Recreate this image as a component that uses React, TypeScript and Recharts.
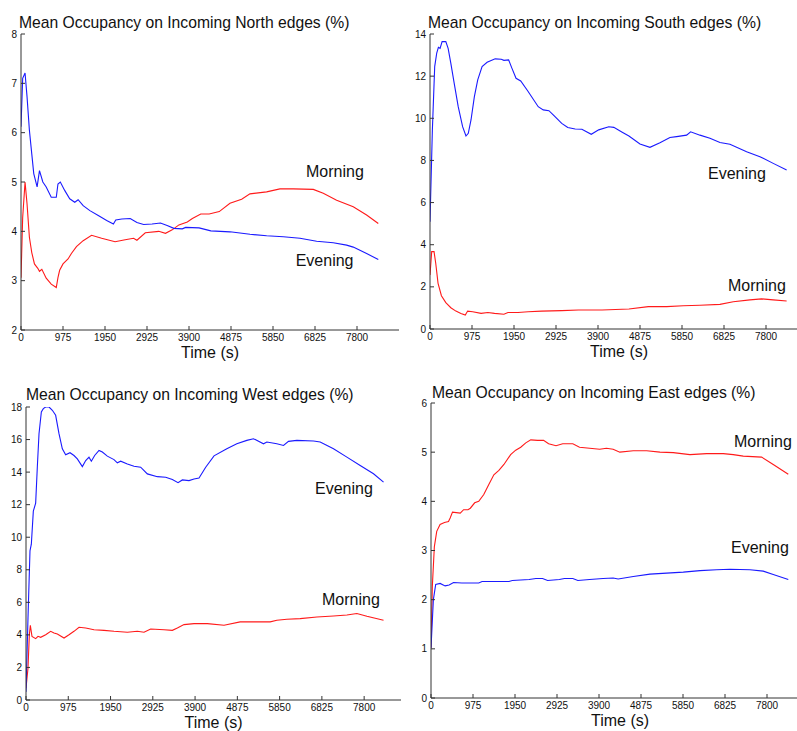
import { Line, LineChart, ReferenceDot, XAxis, YAxis } from "recharts";

const X_TICKS = [0, 975, 1950, 2925, 3900, 4875, 5850, 6825, 7800];

// North
const NORTH_EVE_T = [0, 39, 94, 140, 195, 250, 296, 374, 429, 507, 585, 702, 819, 858, 913, 1014, 1131, 1248, 1326, 1443, 1599, 1794, 1989, 2145, 2200, 2340, 2535, 2691, 2847, 3042, 3237, 3393, 3549, 3744, 3822, 4134, 4407, 4851, 5315, 5702, 6089, 6476, 6863, 7249, 7559, 7713, 8023, 8294];
const NORTH_EVE = [6.12, 7.1, 7.21, 6.73, 6.05, 5.57, 5.17, 4.9, 5.23, 5.0, 4.9, 4.69, 4.69, 4.96, 5.0, 4.83, 4.66, 4.59, 4.64, 4.52, 4.42, 4.32, 4.22, 4.15, 4.23, 4.25, 4.26, 4.18, 4.14, 4.15, 4.17, 4.12, 4.06, 4.05, 4.08, 4.07, 4.01, 3.99, 3.94, 3.91, 3.89, 3.86, 3.8, 3.77, 3.72, 3.68, 3.55, 3.43];
const NORTH_MOR_T = [0, 39, 94, 140, 195, 250, 312, 390, 429, 484, 585, 702, 819, 858, 897, 975, 1092, 1170, 1287, 1443, 1638, 1872, 2184, 2418, 2613, 2691, 2886, 3198, 3354, 3510, 3666, 3861, 3978, 4173, 4368, 4602, 4851, 5122, 5315, 5702, 6011, 6321, 6785, 7017, 7327, 7713, 8023, 8294];
const NORTH_MOR = [3.06, 4.28, 5.0, 4.56, 3.88, 3.57, 3.34, 3.25, 3.19, 3.23, 3.05, 2.93, 2.86, 3.06, 3.21, 3.34, 3.44, 3.55, 3.69, 3.81, 3.92, 3.86, 3.79, 3.83, 3.86, 3.82, 3.97, 4.0, 3.96, 4.03, 4.13, 4.19, 4.26, 4.35, 4.35, 4.4, 4.57, 4.65, 4.76, 4.8, 4.86, 4.86, 4.85, 4.77, 4.63, 4.5, 4.33, 4.16];

// South
const SOUTH_EVE_T = [0, 55, 109, 156, 195, 234, 281, 367, 421, 484, 562, 655, 757, 835, 889, 952, 1030, 1108, 1209, 1326, 1420, 1513, 1654, 1716, 1825, 1903, 1997, 2106, 2278, 2512, 2629, 2761, 2902, 3058, 3198, 3370, 3526, 3744, 3916, 4150, 4267, 4462, 4618, 4874, 5106, 5338, 5570, 5725, 5957, 6050, 6267, 6499, 6731, 6963, 7350, 7659, 7968, 8279];
const SOUTH_EVE = [5.09, 9.45, 12.45, 13.09, 13.37, 13.32, 13.64, 13.64, 13.32, 12.61, 11.66, 10.55, 9.6, 9.16, 9.29, 9.92, 11.03, 11.82, 12.45, 12.66, 12.74, 12.82, 12.8, 12.75, 12.77, 12.37, 11.9, 11.77, 11.27, 10.55, 10.4, 10.36, 10.08, 9.76, 9.56, 9.49, 9.48, 9.24, 9.45, 9.6, 9.57, 9.34, 9.16, 8.78, 8.62, 8.84, 9.09, 9.13, 9.2, 9.36, 9.2, 9.05, 8.85, 8.77, 8.41, 8.18, 7.86, 7.55];
const SOUTH_MOR_T = [0, 39, 94, 133, 187, 265, 367, 484, 601, 718, 819, 874, 991, 1186, 1342, 1498, 1716, 1810, 2044, 2278, 2590, 3058, 3448, 3994, 4618, 5068, 5494, 5880, 6267, 6731, 7040, 7427, 7698, 7968, 8279];
const SOUTH_MOR = [2.56, 3.67, 3.67, 3.12, 2.17, 1.58, 1.25, 1.01, 0.85, 0.74, 0.66, 0.85, 0.82, 0.74, 0.78, 0.74, 0.7, 0.78, 0.78, 0.82, 0.85, 0.87, 0.9, 0.9, 0.95, 1.06, 1.06, 1.1, 1.13, 1.17, 1.29, 1.38, 1.43, 1.38, 1.33];

// West
const WEST_EVE_T = [0, 46, 92, 123, 169, 223, 261, 300, 354, 400, 454, 531, 608, 684, 761, 838, 915, 1015, 1107, 1184, 1300, 1377, 1453, 1507, 1584, 1684, 1761, 1876, 2030, 2107, 2184, 2338, 2492, 2645, 2799, 3030, 3222, 3376, 3507, 3607, 3760, 3876, 3991, 4145, 4337, 4632, 4863, 5094, 5248, 5478, 5555, 5786, 5940, 6055, 6248, 6632, 6786, 7093, 7402, 7709, 8016, 8247];
const WEST_EVE = [0.5, 5.04, 9.16, 9.57, 11.6, 12.1, 14.3, 16.36, 17.7, 17.9, 18.0, 18.0, 17.8, 17.49, 16.36, 15.43, 15.06, 15.19, 15.02, 14.81, 14.34, 14.71, 14.92, 14.67, 15.02, 15.33, 15.23, 14.98, 14.77, 14.57, 14.67, 14.5, 14.36, 14.3, 13.89, 13.72, 13.68, 13.54, 13.35, 13.52, 13.48, 13.58, 13.64, 14.3, 15.0, 15.44, 15.74, 15.95, 16.05, 15.74, 15.85, 15.74, 15.64, 15.89, 15.95, 15.91, 15.85, 15.44, 14.92, 14.41, 13.9, 13.38];
const WEST_MOR_T = [0, 46, 77, 100, 138, 223, 277, 338, 454, 569, 646, 723, 877, 992, 1107, 1223, 1377, 1569, 1799, 2030, 2338, 2568, 2722, 2876, 3184, 3376, 3491, 3645, 3876, 4183, 4568, 4940, 5248, 5632, 5786, 6017, 6324, 6709, 7093, 7402, 7632, 7863, 8247];
const WEST_MOR = [0.72, 1.95, 4.0, 4.59, 3.91, 3.77, 3.91, 3.85, 4.01, 4.22, 4.12, 4.05, 3.81, 4.01, 4.22, 4.47, 4.42, 4.32, 4.28, 4.22, 4.16, 4.22, 4.16, 4.36, 4.32, 4.28, 4.42, 4.63, 4.69, 4.69, 4.59, 4.8, 4.8, 4.8, 4.9, 4.96, 5.0, 5.1, 5.16, 5.22, 5.31, 5.14, 4.9];

// East
const EAST_MOR_T = [0, 31, 78, 133, 211, 312, 406, 445, 499, 679, 757, 858, 913, 1014, 1108, 1225, 1342, 1459, 1576, 1693, 1849, 1966, 2083, 2200, 2317, 2473, 2613, 2730, 2902, 3058, 3292, 3448, 3682, 3916, 4072, 4228, 4384, 4696, 5006, 5315, 5624, 6011, 6399, 6785, 7017, 7249, 7675, 7945, 8294];
const EAST_MOR = [1.02, 2.27, 3.08, 3.39, 3.53, 3.57, 3.59, 3.66, 3.78, 3.76, 3.83, 3.83, 3.86, 3.97, 4.0, 4.14, 4.34, 4.54, 4.63, 4.75, 4.95, 5.04, 5.1, 5.19, 5.25, 5.24, 5.24, 5.17, 5.13, 5.17, 5.17, 5.1, 5.08, 5.06, 5.08, 5.06, 5.0, 5.03, 5.03, 5.0, 4.99, 4.95, 4.97, 4.97, 4.95, 4.92, 4.9, 4.75, 4.55];
const EAST_EVE_T = [0, 55, 109, 211, 328, 421, 523, 718, 1108, 1186, 1498, 1810, 1888, 2278, 2434, 2590, 2707, 2980, 3097, 3292, 3409, 3682, 3994, 4228, 4345, 4696, 5083, 5470, 5856, 6244, 6631, 6940, 7404, 7713, 7945, 8294];
const EAST_EVE = [1.02, 2.0, 2.31, 2.33, 2.28, 2.3, 2.35, 2.34, 2.34, 2.37, 2.37, 2.37, 2.39, 2.41, 2.43, 2.43, 2.39, 2.41, 2.43, 2.43, 2.39, 2.41, 2.43, 2.44, 2.42, 2.47, 2.52, 2.54, 2.56, 2.59, 2.61, 2.62, 2.61, 2.58, 2.51, 2.41];

const FONT = '"Liberation Sans", Arial, Helvetica, sans-serif';
const INK = "#111";
const FRAME = "#333";
const RED = "#ff1a1a";
const BLUE = "#1a1aff";

const zip = (t: number[], v: number[]) => t.map((x, i) => ({ t: x, v: v[i] }));

interface Panel {
  title: string;
  titleAt: [number, number];
  box: [number, number, number, number]; // plot area: left, top, right, bottom
  xMax: number;
  yMax: number;
  yTicks: number[];
  morning: { t: number; v: number }[];
  evening: { t: number; v: number }[];
  morningAt: [number, number];
  eveningAt: [number, number];
}

const PANELS: Panel[] = [
  {
    title: "Mean Occupancy on Incoming North edges (%)",
    titleAt: [19, 15],
    box: [21, 34, 399, 330],
    xMax: 8775,
    yMax: 8,
    yTicks: [2, 3, 4, 5, 6, 7, 8],
    morning: zip(NORTH_MOR_T, NORTH_MOR),
    evening: zip(NORTH_EVE_T, NORTH_EVE),
    morningAt: [6616, 5.22],
    eveningAt: [6376, 3.42],
  },
  {
    title: "Mean Occupancy on Incoming South edges (%)",
    titleAt: [428, 15],
    box: [430, 34, 808, 329],
    xMax: 8775,
    yMax: 14,
    yTicks: [0, 2, 4, 6, 8, 10, 12, 14],
    morning: zip(SOUTH_MOR_T, SOUTH_MOR),
    evening: zip(SOUTH_EVE_T, SOUTH_EVE),
    morningAt: [6918, 2.1],
    eveningAt: [6453, 7.4],
  },
  {
    title: "Mean Occupancy on Incoming West edges (%)",
    titleAt: [26, 387],
    box: [26, 407, 401, 700],
    xMax: 8650,
    yMax: 18,
    yTicks: [0, 2, 4, 6, 8, 10, 12, 14, 16, 18],
    morning: zip(WEST_MOR_T, WEST_MOR),
    evening: zip(WEST_EVE_T, WEST_EVE),
    morningAt: [6828, 6.2],
    eveningAt: [6666, 13.0],
  },
  {
    title: "Mean Occupancy on Incoming East edges (%)",
    titleAt: [432, 385],
    box: [431, 403, 809, 698],
    xMax: 8775,
    yMax: 6,
    yTicks: [0, 1, 2, 3, 4, 5, 6],
    morning: zip(EAST_MOR_T, EAST_MOR),
    evening: zip(EAST_EVE_T, EAST_EVE),
    morningAt: [7034, 5.23],
    eveningAt: [6964, 3.07],
  },
];

const BottomTick = (p: any) => (
  <g>
    <line x1={p.x} x2={p.x} y1={p.y} y2={p.y - 4} stroke={FRAME} />
    <text x={p.x} y={p.y + 11} textAnchor="middle" fontSize={10} fontFamily={FONT} fill={INK}>
      {p.payload.value}
    </text>
  </g>
);

const TopTick = (p: any) => <line x1={p.x} x2={p.x} y1={p.y} y2={p.y + 4} stroke={FRAME} />;

const LeftTick = (p: any) => (
  <g>
    <line x1={p.x} x2={p.x + 4} y1={p.y} y2={p.y} stroke={FRAME} />
    <text x={p.x - 4} y={p.y + 3.6} textAnchor="end" fontSize={10} fontFamily={FONT} fill={INK}>
      {p.payload.value}
    </text>
  </g>
);

const RightTick = (p: any) => <line x1={p.x} x2={p.x - 4} y1={p.y} y2={p.y} stroke={FRAME} />;

const timeLabel = (p: any) => {
  const vb = p.viewBox;
  return (
    <text x={vb.x + vb.width / 2} y={vb.y + 28} textAnchor="middle" fontSize={16} fontFamily={FONT} fill={INK}>
      Time (s)
    </text>
  );
};

const tag = (text: string) => (p: any) => {
  const vb = p.viewBox;
  return (
    <text x={vb.x} y={vb.y} dy="0.36em" fontSize={16} fontFamily={FONT} fill={INK}>
      {text}
    </text>
  );
};

function OccupancyPanel({ p }: { p: Panel }) {
  const [x0, y0, x1, y1] = p.box;
  const LEFT = 30;
  const TOP = 30;
  const BOTTOM = 40;
  const w = x1 - x0 + LEFT + 5;
  const h = y1 - y0 + TOP + BOTTOM;
  const yMin = p.yTicks[0];
  return (
    <>
      <div
        style={{
          position: "absolute",
          left: p.titleAt[0],
          top: p.titleAt[1],
          fontSize: 15.7,
          lineHeight: "16px",
          whiteSpace: "nowrap",
          color: INK,
        }}
      >
        {p.title}
      </div>
      <div style={{ position: "absolute", left: x0 - LEFT, top: y0 - TOP }}>
        <LineChart width={w} height={h} margin={{ top: TOP, right: 5, bottom: 0, left: 0 }}>
          <XAxis
            dataKey="t"
            type="number"
            domain={[0, p.xMax]}
            ticks={X_TICKS}
            height={BOTTOM}
            tickSize={0}
            tickMargin={0}
            tickLine={false}
            tick={BottomTick}
            axisLine={{ stroke: FRAME }}
            interval={0}
            allowDataOverflow
            label={timeLabel}
          />
          <XAxis
            xAxisId="top"
            orientation="top"
            dataKey="t"
            type="number"
            domain={[0, p.xMax]}
            ticks={X_TICKS}
            height={0}
            tickSize={0}
            tickMargin={0}
            tickLine={false}
            tick={TopTick}
            axisLine={{ stroke: FRAME }}
            interval={0}
            allowDataOverflow
          />
          <YAxis
            type="number"
            domain={[yMin, p.yMax]}
            ticks={p.yTicks}
            width={LEFT}
            tickSize={0}
            tickMargin={0}
            tickLine={false}
            tick={LeftTick}
            axisLine={{ stroke: FRAME }}
            interval={0}
            allowDataOverflow
          />
          <YAxis
            yAxisId="right"
            orientation="right"
            type="number"
            domain={[yMin, p.yMax]}
            ticks={p.yTicks}
            width={0}
            tickSize={0}
            tickMargin={0}
            tickLine={false}
            tick={RightTick}
            axisLine={{ stroke: FRAME }}
            interval={0}
            allowDataOverflow
          />
          <Line
            data={p.morning}
            dataKey="v"
            type="linear"
            stroke={RED}
            strokeWidth={1.1}
            dot={false}
            isAnimationActive={false}
          />
          <Line
            data={p.evening}
            dataKey="v"
            type="linear"
            stroke={BLUE}
            strokeWidth={1.1}
            dot={false}
            isAnimationActive={false}
          />
          <ReferenceDot x={p.morningAt[0]} y={p.morningAt[1]} r={0} stroke="none" fill="none" label={tag("Morning")} />
          <ReferenceDot x={p.eveningAt[0]} y={p.eveningAt[1]} r={0} stroke="none" fill="none" label={tag("Evening")} />
        </LineChart>
      </div>
    </>
  );
}

export default function App() {
  return (
    <div
      style={{
        position: "fixed",
        left: 0,
        top: 0,
        width: 797,
        height: 731,
        overflow: "hidden",
        background: "#fff",
        fontFamily: FONT,
      }}
    >
      {PANELS.map((p) => (
        <OccupancyPanel key={p.title} p={p} />
      ))}
    </div>
  );
}
